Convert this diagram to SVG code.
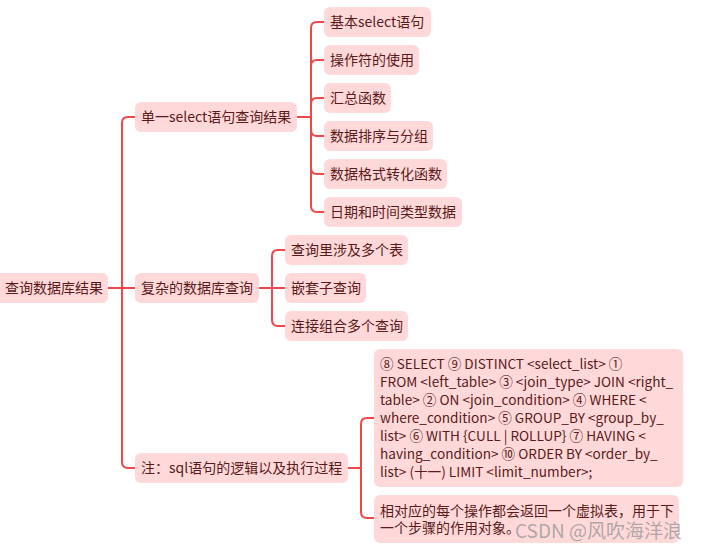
<svg xmlns="http://www.w3.org/2000/svg" width="701" height="551" viewBox="0 0 701 551">
<style>
.n{fill:#ffd9d9}
.t{font-family:"Noto Sans CJK SC","Noto Sans",sans-serif;font-size:14px;fill:#5a1a1a}
.s{font-size:13.6px}
.c{fill:none;stroke:#f04848;stroke-width:2}
.wm{font-family:"Noto Sans CJK SC","Noto Sans",sans-serif;font-size:19px;fill:#999;fill-opacity:0.8}
</style>
<rect width="701" height="551" fill="#fff"/>
<g id="connectors">
<path class="c" d="M108,288 H135"/>
<path class="c" d="M122,288 V123 Q122,117 128,117 H135"/>
<path class="c" d="M122,288 V462 Q122,468 128,468 H135"/>
<path class="c" d="M297,117 H311"/>
<path class="c" d="M311,117 V28 Q311,22 317,22 H324"/>
<path class="c" d="M311,117 V66 Q311,60 317,60 H324"/>
<path class="c" d="M311,117 V104 Q311,98 317,98 H324"/>
<path class="c" d="M311,117 V130 Q311,136 317,136 H324"/>
<path class="c" d="M311,117 V168 Q311,174 317,174 H324"/>
<path class="c" d="M311,117 V206 Q311,212 317,212 H324"/>
<path class="c" d="M259,288 H285"/>
<path class="c" d="M272,288 V256 Q272,250 278,250 H285"/>
<path class="c" d="M272,288 V320 Q272,326 278,326 H285"/>
<path class="c" d="M348,468 H361"/>
<path class="c" d="M361,468 V424 Q361,418 367,418 H374"/>
<path class="c" d="M361,468 V512 Q361,518 367,518 H374"/>
</g>
<g id="root"><rect class="n" x="-6" y="273" width="114" height="30" rx="6"/><text class="t" x="5" y="293">查询数据库结果</text></g>
<g id="n1"><rect class="n" x="135" y="102" width="162" height="30" rx="6"/><text class="t" x="141" y="122">单一select语句查询结果</text></g>
<g id="n2"><rect class="n" x="135" y="273" width="124" height="30" rx="6"/><text class="t" x="141" y="293">复杂的数据库查询</text></g>
<g id="n3"><rect class="n" x="135" y="453" width="213" height="30" rx="6"/><text class="t" x="141" y="473">注：sql语句的逻辑以及执行过程</text></g>
<g id="n1a"><rect class="n" x="324" y="7" width="107" height="30" rx="6"/><text class="t" x="330" y="27">基本select语句</text></g>
<g id="n1b"><rect class="n" x="324" y="45" width="95" height="30" rx="6"/><text class="t" x="330" y="65">操作符的使用</text></g>
<g id="n1c"><rect class="n" x="324" y="83" width="67" height="30" rx="6"/><text class="t" x="330" y="103">汇总函数</text></g>
<g id="n1d"><rect class="n" x="324" y="121" width="109" height="30" rx="6"/><text class="t" x="330" y="141">数据排序与分组</text></g>
<g id="n1e"><rect class="n" x="324" y="159" width="123" height="30" rx="6"/><text class="t" x="330" y="179">数据格式转化函数</text></g>
<g id="n1f"><rect class="n" x="324" y="197" width="138" height="30" rx="6"/><text class="t" x="330" y="217">日期和时间类型数据</text></g>
<g id="n2a"><rect class="n" x="285" y="235" width="123" height="30" rx="6"/><text class="t" x="291" y="255">查询里涉及多个表</text></g>
<g id="n2b"><rect class="n" x="285" y="273" width="81" height="30" rx="6"/><text class="t" x="291" y="293">嵌套子查询</text></g>
<g id="n2c"><rect class="n" x="285" y="311" width="123" height="30" rx="6"/><text class="t" x="291" y="331">连接组合多个查询</text></g>
<g id="n3a"><rect class="n" x="374" y="349" width="309" height="138" rx="6"/>
<text class="t s"><tspan x="380" y="369">⑧ SELECT ⑨ DISTINCT &lt;select_list&gt; ①</tspan><tspan x="380" y="387">FROM &lt;left_table&gt; ③ &lt;join_type&gt; JOIN &lt;right_</tspan><tspan x="380" y="405">table&gt; ② ON &lt;join_condition&gt; ④ WHERE &lt;</tspan><tspan x="380" y="423">where_condition&gt; ⑤ GROUP_BY &lt;group_by_</tspan><tspan x="380" y="441">list&gt; ⑥ WITH {CULL | ROLLUP} ⑦ HAVING &lt;</tspan><tspan x="380" y="459">having_condition&gt; ⑩ ORDER BY &lt;order_by_</tspan><tspan x="380" y="477">list&gt; (十一) LIMIT &lt;limit_number&gt;;</tspan></text></g>
<g id="n3b"><rect class="n" x="374" y="495" width="305" height="48" rx="6"/>
<text class="t"><tspan x="380" y="516">相对应的每个操作都会返回一个虚拟表，用于下</tspan><tspan x="380" y="533">一个步骤的作用对象。</tspan></text></g>
<text class="wm" x="515" y="538">CSDN @风吹海洋浪</text>
</svg>
